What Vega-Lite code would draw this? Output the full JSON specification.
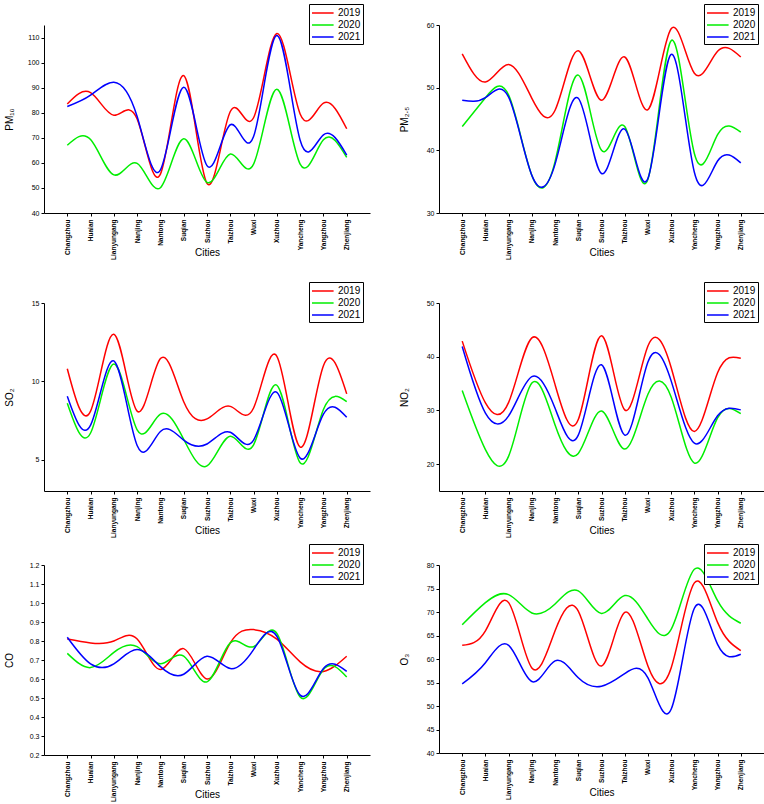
{
  "$schema": "https://vega.github.io/schema/vega-lite/v6.json",
  "padding": {"left": 4, "top": 3, "right": 0, "bottom": 0},
  "background": "white",
  "config": {
    "view": {"stroke": null},
    "font": "Liberation Sans",
    "line": {"interpolate": "natural", "strokeWidth": 1.5},
    "axis": {
      "grid": false, "domainColor": "#000", "tickColor": "#000", "labelColor": "#000", "titleColor": "#000",
      "labelFont": "Liberation Sans", "titleFont": "Liberation Sans", "titleFontWeight": "normal", "titleFontSize": 10
    },
    "axisX": {"labelAngle": 270, "labelFontSize": 6.5, "labelFontWeight": "bold", "tickSize": 3, "labelPadding": 3, "titleBaseline": "middle", "titleY": 39, "labelAlign": "right", "labelBaseline": "middle"},
    "axisY": {"labelFontSize": 7, "tickSize": 3, "labelPadding": 2, "minExtent": 22, "maxExtent": 22, "titlePadding": 8},
    "legend": {"orient": "none", "legendX": 265, "legendY": -21, "strokeColor": "#000", "fillColor": "white", "padding": 2, "symbolType": "M-1,0H2.6", "symbolStrokeWidth": 1.5, "symbolSize": 144, "labelOffset": 13, "labelFontSize": 10, "labelFont": "Liberation Sans", "labelColor": "#000", "rowPadding": 0, "title": null}
  },
  "datasets": {
    "aq": [
      {"p":"PM10","c":"Changzhou","yr":"2019","v":83.5},{"p":"PM10","c":"Changzhou","yr":"2020","v":67},{"p":"PM10","c":"Changzhou","yr":"2021","v":82.5},
      {"p":"PM10","c":"Huaian","yr":"2019","v":88},{"p":"PM10","c":"Huaian","yr":"2020","v":69.3},{"p":"PM10","c":"Huaian","yr":"2021","v":87},
      {"p":"PM10","c":"Lianyungang","yr":"2019","v":79},{"p":"PM10","c":"Lianyungang","yr":"2020","v":55.2},{"p":"PM10","c":"Lianyungang","yr":"2021","v":92.2},
      {"p":"PM10","c":"Nanjing","yr":"2019","v":77.5},{"p":"PM10","c":"Nanjing","yr":"2020","v":59.8},{"p":"PM10","c":"Nanjing","yr":"2021","v":78.5},
      {"p":"PM10","c":"Nantong","yr":"2019","v":55.5},{"p":"PM10","c":"Nantong","yr":"2020","v":50.1},{"p":"PM10","c":"Nantong","yr":"2021","v":57.2},
      {"p":"PM10","c":"Suqian","yr":"2019","v":94.8},{"p":"PM10","c":"Suqian","yr":"2020","v":69.6},{"p":"PM10","c":"Suqian","yr":"2021","v":90.2},
      {"p":"PM10","c":"Suzhou","yr":"2019","v":51.8},{"p":"PM10","c":"Suzhou","yr":"2020","v":52.2},{"p":"PM10","c":"Suzhou","yr":"2021","v":58.9},
      {"p":"PM10","c":"Taizhou","yr":"2019","v":80.5},{"p":"PM10","c":"Taizhou","yr":"2020","v":63.5},{"p":"PM10","c":"Taizhou","yr":"2021","v":75.2},
      {"p":"PM10","c":"Wuxi","yr":"2019","v":78},{"p":"PM10","c":"Wuxi","yr":"2020","v":59.5},{"p":"PM10","c":"Wuxi","yr":"2021","v":70.5},
      {"p":"PM10","c":"Xuzhou","yr":"2019","v":111.6},{"p":"PM10","c":"Xuzhou","yr":"2020","v":89.4},{"p":"PM10","c":"Xuzhou","yr":"2021","v":110.8},
      {"p":"PM10","c":"Yancheng","yr":"2019","v":79.5},{"p":"PM10","c":"Yancheng","yr":"2020","v":59.5},{"p":"PM10","c":"Yancheng","yr":"2021","v":69},
      {"p":"PM10","c":"Yangzhou","yr":"2019","v":83.8},{"p":"PM10","c":"Yangzhou","yr":"2020","v":69.2},{"p":"PM10","c":"Yangzhou","yr":"2021","v":71.2},
      {"p":"PM10","c":"Zhenjiang","yr":"2019","v":73.6},{"p":"PM10","c":"Zhenjiang","yr":"2020","v":62.2},{"p":"PM10","c":"Zhenjiang","yr":"2021","v":63.1},

      {"p":"PM25","c":"Changzhou","yr":"2019","v":55.4},{"p":"PM25","c":"Changzhou","yr":"2020","v":43.8},{"p":"PM25","c":"Changzhou","yr":"2021","v":48},
      {"p":"PM25","c":"Huaian","yr":"2019","v":50.9},{"p":"PM25","c":"Huaian","yr":"2020","v":48.4},{"p":"PM25","c":"Huaian","yr":"2021","v":48.4},
      {"p":"PM25","c":"Lianyungang","yr":"2019","v":53.7},{"p":"PM25","c":"Lianyungang","yr":"2020","v":48.8},{"p":"PM25","c":"Lianyungang","yr":"2021","v":48.5},
      {"p":"PM25","c":"Nanjing","yr":"2019","v":48.3},{"p":"PM25","c":"Nanjing","yr":"2020","v":36},{"p":"PM25","c":"Nanjing","yr":"2021","v":36},
      {"p":"PM25","c":"Nantong","yr":"2019","v":46.4},{"p":"PM25","c":"Nantong","yr":"2020","v":38.2},{"p":"PM25","c":"Nantong","yr":"2021","v":37.8},
      {"p":"PM25","c":"Suqian","yr":"2019","v":55.9},{"p":"PM25","c":"Suqian","yr":"2020","v":52},{"p":"PM25","c":"Suqian","yr":"2021","v":48.3},
      {"p":"PM25","c":"Suzhou","yr":"2019","v":48},{"p":"PM25","c":"Suzhou","yr":"2020","v":40},{"p":"PM25","c":"Suzhou","yr":"2021","v":36.3},
      {"p":"PM25","c":"Taizhou","yr":"2019","v":54.9},{"p":"PM25","c":"Taizhou","yr":"2020","v":43.8},{"p":"PM25","c":"Taizhou","yr":"2021","v":43.4},
      {"p":"PM25","c":"Wuxi","yr":"2019","v":46.5},{"p":"PM25","c":"Wuxi","yr":"2020","v":35.4},{"p":"PM25","c":"Wuxi","yr":"2021","v":35.5},
      {"p":"PM25","c":"Xuzhou","yr":"2019","v":59.4},{"p":"PM25","c":"Xuzhou","yr":"2020","v":57.5},{"p":"PM25","c":"Xuzhou","yr":"2021","v":55.3},
      {"p":"PM25","c":"Yancheng","yr":"2019","v":52.3},{"p":"PM25","c":"Yancheng","yr":"2020","v":39.5},{"p":"PM25","c":"Yancheng","yr":"2021","v":36.5},
      {"p":"PM25","c":"Yangzhou","yr":"2019","v":55.8},{"p":"PM25","c":"Yangzhou","yr":"2020","v":42.5},{"p":"PM25","c":"Yangzhou","yr":"2021","v":38.3},
      {"p":"PM25","c":"Zhenjiang","yr":"2019","v":54.9},{"p":"PM25","c":"Zhenjiang","yr":"2020","v":42.9},{"p":"PM25","c":"Zhenjiang","yr":"2021","v":38},

      {"p":"SO2","c":"Changzhou","yr":"2019","v":10.8},{"p":"SO2","c":"Changzhou","yr":"2020","v":8.6},{"p":"SO2","c":"Changzhou","yr":"2021","v":9.05},
      {"p":"SO2","c":"Huaian","yr":"2019","v":8.1},{"p":"SO2","c":"Huaian","yr":"2020","v":6.7},{"p":"SO2","c":"Huaian","yr":"2021","v":7.2},
      {"p":"SO2","c":"Lianyungang","yr":"2019","v":13.0},{"p":"SO2","c":"Lianyungang","yr":"2020","v":11.1},{"p":"SO2","c":"Lianyungang","yr":"2021","v":11.3},
      {"p":"SO2","c":"Nanjing","yr":"2019","v":8.1},{"p":"SO2","c":"Nanjing","yr":"2020","v":6.9},{"p":"SO2","c":"Nanjing","yr":"2021","v":5.9},
      {"p":"SO2","c":"Nantong","yr":"2019","v":11.45},{"p":"SO2","c":"Nantong","yr":"2020","v":7.9},{"p":"SO2","c":"Nantong","yr":"2021","v":6.8},
      {"p":"SO2","c":"Suqian","yr":"2019","v":8.7},{"p":"SO2","c":"Suqian","yr":"2020","v":6.3},{"p":"SO2","c":"Suqian","yr":"2021","v":6.25},
      {"p":"SO2","c":"Suzhou","yr":"2019","v":7.6},{"p":"SO2","c":"Suzhou","yr":"2020","v":4.6},{"p":"SO2","c":"Suzhou","yr":"2021","v":6.0},
      {"p":"SO2","c":"Taizhou","yr":"2019","v":8.4},{"p":"SO2","c":"Taizhou","yr":"2020","v":6.5},{"p":"SO2","c":"Taizhou","yr":"2021","v":6.75},
      {"p":"SO2","c":"Wuxi","yr":"2019","v":8.3},{"p":"SO2","c":"Wuxi","yr":"2020","v":5.95},{"p":"SO2","c":"Wuxi","yr":"2021","v":6.25},
      {"p":"SO2","c":"Xuzhou","yr":"2019","v":11.6},{"p":"SO2","c":"Xuzhou","yr":"2020","v":9.75},{"p":"SO2","c":"Xuzhou","yr":"2021","v":9.3},
      {"p":"SO2","c":"Yancheng","yr":"2019","v":5.8},{"p":"SO2","c":"Yancheng","yr":"2020","v":4.8},{"p":"SO2","c":"Yancheng","yr":"2021","v":5.1},
      {"p":"SO2","c":"Yangzhou","yr":"2019","v":11.0},{"p":"SO2","c":"Yangzhou","yr":"2020","v":8.2},{"p":"SO2","c":"Yangzhou","yr":"2021","v":7.9},
      {"p":"SO2","c":"Zhenjiang","yr":"2019","v":9.2},{"p":"SO2","c":"Zhenjiang","yr":"2020","v":8.7},{"p":"SO2","c":"Zhenjiang","yr":"2021","v":7.7},

      {"p":"NO2","c":"Changzhou","yr":"2019","v":42.9},{"p":"NO2","c":"Changzhou","yr":"2020","v":33.7},{"p":"NO2","c":"Changzhou","yr":"2021","v":41.9},
      {"p":"NO2","c":"Huaian","yr":"2019","v":31.4},{"p":"NO2","c":"Huaian","yr":"2020","v":22.7},{"p":"NO2","c":"Huaian","yr":"2021","v":29.5},
      {"p":"NO2","c":"Lianyungang","yr":"2019","v":31.5},{"p":"NO2","c":"Lianyungang","yr":"2020","v":21.5},{"p":"NO2","c":"Lianyungang","yr":"2021","v":29},
      {"p":"NO2","c":"Nanjing","yr":"2019","v":43.5},{"p":"NO2","c":"Nanjing","yr":"2020","v":35.1},{"p":"NO2","c":"Nanjing","yr":"2021","v":36.3},
      {"p":"NO2","c":"Nantong","yr":"2019","v":34.8},{"p":"NO2","c":"Nantong","yr":"2020","v":27.3},{"p":"NO2","c":"Nantong","yr":"2021","v":30.4},
      {"p":"NO2","c":"Suqian","yr":"2019","v":28.3},{"p":"NO2","c":"Suqian","yr":"2020","v":22},{"p":"NO2","c":"Suqian","yr":"2021","v":25.4},
      {"p":"NO2","c":"Suzhou","yr":"2019","v":43.9},{"p":"NO2","c":"Suzhou","yr":"2020","v":29.9},{"p":"NO2","c":"Suzhou","yr":"2021","v":38.5},
      {"p":"NO2","c":"Taizhou","yr":"2019","v":30.1},{"p":"NO2","c":"Taizhou","yr":"2020","v":22.8},{"p":"NO2","c":"Taizhou","yr":"2021","v":25.4},
      {"p":"NO2","c":"Wuxi","yr":"2019","v":42},{"p":"NO2","c":"Wuxi","yr":"2020","v":33},{"p":"NO2","c":"Wuxi","yr":"2021","v":39},
      {"p":"NO2","c":"Xuzhou","yr":"2019","v":38},{"p":"NO2","c":"Xuzhou","yr":"2020","v":32.5},{"p":"NO2","c":"Xuzhou","yr":"2021","v":35.5},
      {"p":"NO2","c":"Yancheng","yr":"2019","v":26.1},{"p":"NO2","c":"Yancheng","yr":"2020","v":20.2},{"p":"NO2","c":"Yancheng","yr":"2021","v":23.9},
      {"p":"NO2","c":"Yangzhou","yr":"2019","v":37},{"p":"NO2","c":"Yangzhou","yr":"2020","v":28.6},{"p":"NO2","c":"Yangzhou","yr":"2021","v":29},
      {"p":"NO2","c":"Zhenjiang","yr":"2019","v":39.7},{"p":"NO2","c":"Zhenjiang","yr":"2020","v":29.4},{"p":"NO2","c":"Zhenjiang","yr":"2021","v":30.1},

      {"p":"CO","c":"Changzhou","yr":"2019","v":0.81},{"p":"CO","c":"Changzhou","yr":"2020","v":0.735},{"p":"CO","c":"Changzhou","yr":"2021","v":0.82},
      {"p":"CO","c":"Huaian","yr":"2019","v":0.79},{"p":"CO","c":"Huaian","yr":"2020","v":0.66},{"p":"CO","c":"Huaian","yr":"2021","v":0.68},
      {"p":"CO","c":"Lianyungang","yr":"2019","v":0.80},{"p":"CO","c":"Lianyungang","yr":"2020","v":0.74},{"p":"CO","c":"Lianyungang","yr":"2021","v":0.68},
      {"p":"CO","c":"Nanjing","yr":"2019","v":0.81},{"p":"CO","c":"Nanjing","yr":"2020","v":0.77},{"p":"CO","c":"Nanjing","yr":"2021","v":0.755},
      {"p":"CO","c":"Nantong","yr":"2019","v":0.65},{"p":"CO","c":"Nantong","yr":"2020","v":0.68},{"p":"CO","c":"Nantong","yr":"2021","v":0.665},
      {"p":"CO","c":"Suqian","yr":"2019","v":0.76},{"p":"CO","c":"Suqian","yr":"2020","v":0.72},{"p":"CO","c":"Suqian","yr":"2021","v":0.625},
      {"p":"CO","c":"Suzhou","yr":"2019","v":0.60},{"p":"CO","c":"Suzhou","yr":"2020","v":0.585},{"p":"CO","c":"Suzhou","yr":"2021","v":0.72},
      {"p":"CO","c":"Taizhou","yr":"2019","v":0.79},{"p":"CO","c":"Taizhou","yr":"2020","v":0.79},{"p":"CO","c":"Taizhou","yr":"2021","v":0.655},
      {"p":"CO","c":"Wuxi","yr":"2019","v":0.86},{"p":"CO","c":"Wuxi","yr":"2020","v":0.77},{"p":"CO","c":"Wuxi","yr":"2021","v":0.755},
      {"p":"CO","c":"Xuzhou","yr":"2019","v":0.81},{"p":"CO","c":"Xuzhou","yr":"2020","v":0.84},{"p":"CO","c":"Xuzhou","yr":"2021","v":0.825},
      {"p":"CO","c":"Yancheng","yr":"2019","v":0.69},{"p":"CO","c":"Yancheng","yr":"2020","v":0.505},{"p":"CO","c":"Yancheng","yr":"2021","v":0.515},
      {"p":"CO","c":"Yangzhou","yr":"2019","v":0.64},{"p":"CO","c":"Yangzhou","yr":"2020","v":0.65},{"p":"CO","c":"Yangzhou","yr":"2021","v":0.655},
      {"p":"CO","c":"Zhenjiang","yr":"2019","v":0.72},{"p":"CO","c":"Zhenjiang","yr":"2020","v":0.61},{"p":"CO","c":"Zhenjiang","yr":"2021","v":0.64},

      {"p":"O3","c":"Changzhou","yr":"2019","v":62.9},{"p":"O3","c":"Changzhou","yr":"2020","v":67.3},{"p":"O3","c":"Changzhou","yr":"2021","v":54.7},
      {"p":"O3","c":"Huaian","yr":"2019","v":66},{"p":"O3","c":"Huaian","yr":"2020","v":72},{"p":"O3","c":"Huaian","yr":"2021","v":59.2},
      {"p":"O3","c":"Lianyungang","yr":"2019","v":72},{"p":"O3","c":"Lianyungang","yr":"2020","v":73.7},{"p":"O3","c":"Lianyungang","yr":"2021","v":62.9},
      {"p":"O3","c":"Nanjing","yr":"2019","v":58.1},{"p":"O3","c":"Nanjing","yr":"2020","v":69.8},{"p":"O3","c":"Nanjing","yr":"2021","v":55.2},
      {"p":"O3","c":"Nantong","yr":"2019","v":66},{"p":"O3","c":"Nantong","yr":"2020","v":71.7},{"p":"O3","c":"Nantong","yr":"2021","v":59.6},
      {"p":"O3","c":"Suqian","yr":"2019","v":70.2},{"p":"O3","c":"Suqian","yr":"2020","v":74.5},{"p":"O3","c":"Suqian","yr":"2021","v":56},
      {"p":"O3","c":"Suzhou","yr":"2019","v":58.5},{"p":"O3","c":"Suzhou","yr":"2020","v":69.7},{"p":"O3","c":"Suzhou","yr":"2021","v":54.2},
      {"p":"O3","c":"Taizhou","yr":"2019","v":69.9},{"p":"O3","c":"Taizhou","yr":"2020","v":73.5},{"p":"O3","c":"Taizhou","yr":"2021","v":56.9},
      {"p":"O3","c":"Wuxi","yr":"2019","v":58.5},{"p":"O3","c":"Wuxi","yr":"2020","v":68.5},{"p":"O3","c":"Wuxi","yr":"2021","v":56},
      {"p":"O3","c":"Xuzhou","yr":"2019","v":58.1},{"p":"O3","c":"Xuzhou","yr":"2020","v":66.3},{"p":"O3","c":"Xuzhou","yr":"2021","v":49.3},
      {"p":"O3","c":"Yancheng","yr":"2019","v":76.2},{"p":"O3","c":"Yancheng","yr":"2020","v":79.1},{"p":"O3","c":"Yancheng","yr":"2021","v":70.8},
      {"p":"O3","c":"Yangzhou","yr":"2019","v":67.8},{"p":"O3","c":"Yangzhou","yr":"2020","v":72.4},{"p":"O3","c":"Yangzhou","yr":"2021","v":63.1},
      {"p":"O3","c":"Zhenjiang","yr":"2019","v":61.8},{"p":"O3","c":"Zhenjiang","yr":"2020","v":67.6},{"p":"O3","c":"Zhenjiang","yr":"2021","v":61}
    ]
  },
  "resolve": {"scale": {"x": "independent", "y": "independent", "color": "independent"}, "legend": {"color": "independent"}, "axis": {"x": "independent", "y": "independent"}},
  "spacing": 21,
  "vconcat": [
    {
      "hconcat": [
        {
          "width": 326, "height": 188, "data": {"name": "aq"},
          "transform": [{"filter": "datum.p == 'PM10'"}],
          "mark": {"type": "line"},
          "encoding": {
            "x": {"field": "c", "type": "nominal", "sort": null, "scale": {"padding": 1}, "axis": {"title": "Cities"}},
            "y": {"field": "v", "type": "quantitative", "scale": {"domain": [40, 115], "nice": false, "zero": false}, "axis": {"title": "PM₁₀", "values": [40, 50, 60, 70, 80, 90, 100, 110]}},
            "color": {"field": "yr", "type": "nominal", "scale": {"domain": ["2019", "2020", "2021"], "range": ["#ff0000", "#00ee00", "#0000ff"]}, "legend": {}}
          }
        },
        {
          "width": 325, "height": 188, "data": {"name": "aq"},
          "transform": [{"filter": "datum.p == 'PM25'"}],
          "mark": {"type": "line"},
          "encoding": {
            "x": {"field": "c", "type": "nominal", "sort": null, "scale": {"padding": 1}, "axis": {"title": "Cities"}},
            "y": {"field": "v", "type": "quantitative", "scale": {"domain": [30, 60], "nice": false, "zero": false}, "axis": {"title": "PM₂.₅", "values": [30, 40, 50, 60]}},
            "color": {"field": "yr", "type": "nominal", "scale": {"domain": ["2019", "2020", "2021"], "range": ["#ff0000", "#00ee00", "#0000ff"]}, "legend": {}}
          }
        }
      ],
      "spacing": 29,
      "resolve": {"scale": {"x": "independent", "y": "independent", "color": "independent"}, "legend": {"color": "independent"}}
    },
    {
      "vconcat": [
        {
          "hconcat": [
            {
              "width": 326, "height": 188, "data": {"name": "aq"},
              "transform": [{"filter": "datum.p == 'SO2'"}],
              "mark": {"type": "line"},
              "encoding": {
                "x": {"field": "c", "type": "nominal", "sort": null, "scale": {"padding": 1}, "axis": {"title": "Cities"}},
                "y": {"field": "v", "type": "quantitative", "scale": {"domain": [3, 15], "nice": false, "zero": false}, "axis": {"title": "SO₂", "values": [5, 10, 15]}},
                "color": {"field": "yr", "type": "nominal", "scale": {"domain": ["2019", "2020", "2021"], "range": ["#ff0000", "#00ee00", "#0000ff"]}, "legend": {}}
              }
            },
            {
              "width": 325, "height": 188, "data": {"name": "aq"},
              "transform": [{"filter": "datum.p == 'NO2'"}],
              "mark": {"type": "line"},
              "encoding": {
                "x": {"field": "c", "type": "nominal", "sort": null, "scale": {"padding": 1}, "axis": {"title": "Cities"}},
                "y": {"field": "v", "type": "quantitative", "scale": {"domain": [15, 50], "nice": false, "zero": false}, "axis": {"title": "NO₂", "values": [20, 30, 40, 50]}},
                "color": {"field": "yr", "type": "nominal", "scale": {"domain": ["2019", "2020", "2021"], "range": ["#ff0000", "#00ee00", "#0000ff"]}, "legend": {}}
              }
            }
          ],
          "spacing": 29,
          "resolve": {"scale": {"x": "independent", "y": "independent", "color": "independent"}, "legend": {"color": "independent"}}
        },
        {
          "hconcat": [
            {
              "width": 326, "height": 190, "data": {"name": "aq"},
              "transform": [{"filter": "datum.p == 'CO'"}],
              "mark": {"type": "line"},
              "encoding": {
                "x": {"field": "c", "type": "nominal", "sort": null, "scale": {"padding": 1}, "axis": {"title": "Cities"}},
                "y": {"field": "v", "type": "quantitative", "scale": {"domain": [0.2, 1.2], "nice": false, "zero": false}, "axis": {"title": "CO", "values": [0.2, 0.3, 0.4, 0.5, 0.6, 0.7, 0.8, 0.9, 1.0, 1.1, 1.2], "format": ".1f"}},
                "color": {"field": "yr", "type": "nominal", "scale": {"domain": ["2019", "2020", "2021"], "range": ["#ff0000", "#00ee00", "#0000ff"]}, "legend": {}}
              }
            },
            {
              "width": 325, "height": 188, "data": {"name": "aq"},
              "transform": [{"filter": "datum.p == 'O3'"}],
              "mark": {"type": "line"},
              "encoding": {
                "x": {"field": "c", "type": "nominal", "sort": null, "scale": {"padding": 1}, "axis": {"title": "Cities"}},
                "y": {"field": "v", "type": "quantitative", "scale": {"domain": [40, 80], "nice": false, "zero": false}, "axis": {"title": "O₃", "values": [40, 45, 50, 55, 60, 65, 70, 75, 80]}},
                "color": {"field": "yr", "type": "nominal", "scale": {"domain": ["2019", "2020", "2021"], "range": ["#ff0000", "#00ee00", "#0000ff"]}, "legend": {}}
              }
            }
          ],
          "spacing": 29,
          "resolve": {"scale": {"x": "independent", "y": "independent", "color": "independent"}, "legend": {"color": "independent"}}
        }
      ],
      "spacing": 5,
      "resolve": {"scale": {"x": "independent", "y": "independent", "color": "independent"}, "legend": {"color": "independent"}}
    }
  ]
}
